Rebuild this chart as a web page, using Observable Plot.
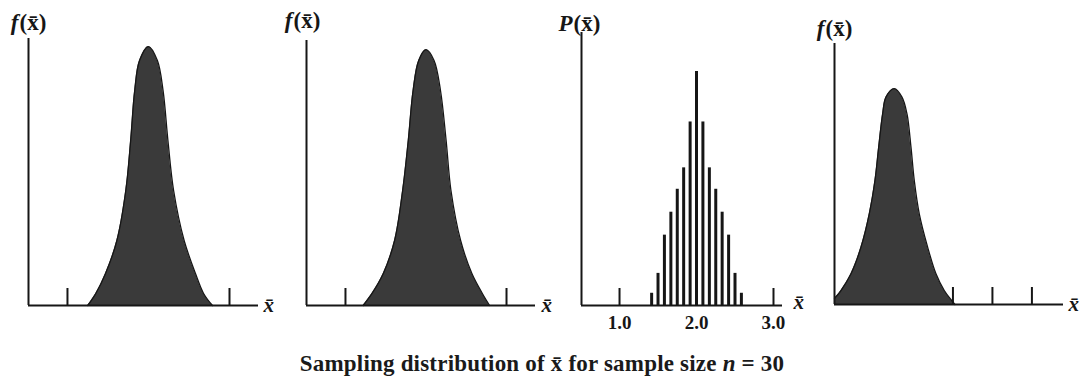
<!DOCTYPE html>
<html><head><meta charset="utf-8">
<script src="https://cdn.jsdelivr.net/npm/d3@7"></script>
<script src="https://cdn.jsdelivr.net/npm/@observablehq/plot@0.6"></script>
<style>
body{margin:0;background:#fff;}
#wrap{position:relative;width:1084px;height:385px;overflow:hidden;background:#fff;}
#wrap svg{position:absolute;top:0;}
#caption{position:absolute;left:0;width:1084px;top:352px;line-height:23px;text-align:center;font-family:"Liberation Serif","DejaVu Serif",serif;font-size:23px;letter-spacing:0.2px;font-weight:bold;color:#1a1a1a;}
</style></head>
<body><div id="wrap"><div id="caption">Sampling distribution of x̄ for sample size <i>n</i> = 30</div></div>
<script>
// ---- Panel 1: continuous sampling distribution f(x̄)
const panel1X = [1.25, 1.35, 1.47, 1.61, 1.72, 1.78, 1.83, 1.89, 2.00, 2.11, 2.18, 2.24, 2.31, 2.44, 2.58, 2.68, 2.79];
const panel1F = [0, 0.093, 0.247, 0.502, 0.888, 1.274, 1.660, 1.892, 2.00, 1.892, 1.660, 1.274, 0.888, 0.502, 0.247, 0.093, 0];
const panel1Ticks = [1, 3];

// ---- Panel 2: continuous sampling distribution f(x̄)
const panel2X = [1.22, 1.33, 1.47, 1.61, 1.71, 1.78, 1.84, 1.91, 2.00, 2.10, 2.18, 2.25, 2.31, 2.43, 2.57, 2.70, 2.79];
const panel2F = [0, 0.093, 0.247, 0.502, 0.888, 1.274, 1.660, 1.892, 1.975, 1.892, 1.660, 1.274, 0.888, 0.502, 0.247, 0.093, 0];
const panel2Ticks = [1, 3];

// ---- Panel 3: discrete sampling distribution P(x̄)
const panel3X = [1.417, 1.5, 1.583, 1.667, 1.75, 1.833, 1.917, 2.0, 2.083, 2.167, 2.25, 2.333, 2.417, 2.5, 2.583];
const panel3P = [0.008, 0.021, 0.046, 0.061, 0.076, 0.090, 0.120, 0.153, 0.120, 0.090, 0.076, 0.061, 0.046, 0.021, 0.008];
const panel3Ticks = [1, 3];
const panel3TickLabels = [1, 2, 3];

// ---- Panel 4: continuous sampling distribution f(x̄), near zero
const panel4X = [0, 0.165, 0.418, 0.671, 0.881, 1.025, 1.119, 1.220, 1.304, 1.514, 1.709, 1.835, 1.937, 2.020, 2.147, 2.359, 2.570, 2.780, 2.967, 3.05];
const panel4F = [0.046, 0.108, 0.237, 0.443, 0.700, 0.958, 1.215, 1.473, 1.601, 1.666, 1.601, 1.473, 1.215, 0.958, 0.700, 0.443, 0.237, 0.108, 0.031, 0];
const panel4Ticks = [3, 4, 5];

const INK = "#161616";
const FILL = "#3a3a3a";
const SERIF = "Liberation Serif, DejaVu Serif, serif";
const H = 345;

const zip = (xs, ys) => xs.map((x, i) => ({x, y: ys[i]}));

function labelMarks(letter, dx, dy) {
  return [
    Plot.text([letter], {frameAnchor: "top-left", textAnchor: "end", lineAnchor: "middle", dx: dx, dy, fontSize: 23, fontStyle: "italic", fontWeight: "bold", fontFamily: SERIF, fill: INK}),
    Plot.text(["(x̄)"], {frameAnchor: "top-left", textAnchor: "start", lineAnchor: "middle", dx: dx + 1, dy, fontSize: 23, fontWeight: "bold", fontFamily: SERIF, fill: INK})
  ];
}
function xbarMark(dx, dy) {
  return Plot.text(["x̄"], {frameAnchor: "bottom-right", textAnchor: "start", lineAnchor: "middle", dx, dy, fontSize: 21, fontStyle: "italic", fontWeight: "bold", fontFamily: SERIF, fill: INK});
}

function panel(cfg) {
  const frameH = H - cfg.marginTop - cfg.marginBottom;
  const svg = Plot.plot({
    width: cfg.width, height: H,
    marginLeft: cfg.marginLeft, marginRight: cfg.marginRight,
    marginTop: cfg.marginTop, marginBottom: cfg.marginBottom,
    x: {domain: cfg.xDomain, axis: null},
    y: {domain: cfg.yDomain, axis: null},
    style: {background: "transparent", overflow: "visible"},
    marks: [
      ...cfg.marks,
      Plot.tickX(cfg.ticks, {x: d => d, insetTop: frameH - 17, stroke: INK, strokeWidth: 2}),
      Plot.ruleY([0], {stroke: INK, strokeWidth: 2}),
      Plot.ruleX([cfg.xDomain[0]], {stroke: INK, strokeWidth: 2}),
      ...labelMarks(cfg.letter, cfg.labelDx, cfg.labelDy),
      xbarMark(cfg.xbarDx, cfg.xbarDy),
      ...(cfg.extra || [])
    ]
  });
  svg.style.left = cfg.left + "px";
  document.getElementById("wrap").appendChild(svg);
}

const curveMarks = (xs, ys) => [
  Plot.areaY(zip(xs, ys), {x: "x", y: "y", curve: "catmull-rom", fill: FILL}),
  Plot.lineY(zip(xs, ys), {x: "x", y: "y", curve: "catmull-rom", stroke: INK, strokeWidth: 1.3})
];

panel({left: 0, width: 280, marginLeft: 28, marginRight: 22, marginTop: 38, marginBottom: 40,
  xDomain: [0.519, 3.358], yDomain: [0, 2.062], ticks: panel1Ticks,
  marks: curveMarks(panel1X, panel1F), letter: "f", labelDx: -10, labelDy: -16, xbarDx: 5, xbarDy: 0});

panel({left: 280, width: 274, marginLeft: 26, marginRight: 19, marginTop: 40, marginBottom: 40,
  xDomain: [0.516, 3.36], yDomain: [0, 2.046], ticks: panel2Ticks,
  marks: curveMarks(panel2X, panel2F), letter: "f", labelDx: -14, labelDy: -20, xbarDx: 6, xbarDy: 0});

panel({left: 554, width: 252, marginLeft: 27, marginRight: 24, marginTop: 32, marginBottom: 40,
  xDomain: [0.506, 3.117], yDomain: [0, 0.1785], ticks: panel3Ticks,
  marks: [Plot.ruleX(zip(panel3X, panel3P), {x: "x", y1: 0, y2: "y", stroke: INK, strokeWidth: 3})],
  extra: [Plot.axisX(panel3TickLabels, {label: null, tickSize: 0, tickPadding: 10, tickFormat: d3.format(".1f"), fontSize: 19, fontWeight: "bold", fontFamily: SERIF, fill: INK})],
  letter: "P", labelDx: -9, labelDy: -9, xbarDx: 11, xbarDy: -3});

panel({left: 806, width: 278, marginLeft: 28, marginRight: 21, marginTop: 43, marginBottom: 41,
  xDomain: [0, 5.8], yDomain: [0, 2.015], ticks: panel4Ticks,
  marks: curveMarks(panel4X, panel4F), letter: "f", labelDx: -10, labelDy: -15, xbarDx: 5, xbarDy: 0});
</script>
</body></html>
